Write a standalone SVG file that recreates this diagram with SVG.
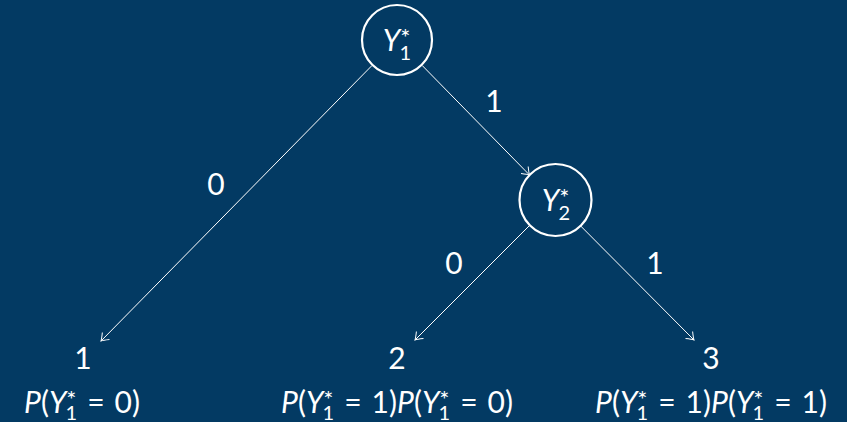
<svg xmlns="http://www.w3.org/2000/svg" width="847" height="422" viewBox="0 0 847 422">
<style>
text{font-family:Lato,"Open Sans","Liberation Sans",sans-serif;fill:#fff;font-size:30px;text-anchor:middle}
.it{font-style:italic}
.s{font-size:20px}
.st{font-size:24px}
.node{fill:none;stroke:#fff;stroke-width:2.2}
.edge{fill:none;stroke:#fff;stroke-width:1;marker-end:url(#arr)}
</style>
<defs>
<marker id="arr" markerUnits="userSpaceOnUse" markerWidth="14" markerHeight="14" viewBox="-8 -7 10 14" refX="0" refY="0" orient="auto">
<path d="M-7,-5 Q-2,-1 0,0 Q-2,1 -7,5" fill="none" stroke="#fff" stroke-width="1"/>
</marker>
</defs>
<rect width="847" height="422" fill="#033a63"/>
<g id="edges">
<line class="edge" x1="371.8" y1="65.7" x2="101" y2="341"/>
<line class="edge" x1="422.3" y1="65.6" x2="529.5" y2="175"/>
<line class="edge" x1="529.5" y1="225.5" x2="415" y2="340"/>
<line class="edge" x1="580.3" y1="225.6" x2="694" y2="340"/>
<text x="216" y="195">0</text>
<text x="494" y="112">1</text>
<text x="454" y="274">0</text>
<text x="655" y="274">1</text>
</g>
<g id="y1">
<circle class="node" cx="397" cy="40" r="35"/>
<text x="397" y="51"><tspan class="it">Y</tspan><tspan class="st" dy="-5">*</tspan><tspan class="s" dx="-11" dy="14">1</tspan></text>
</g>
<g id="y2">
<circle class="node" cx="555.5" cy="200" r="36"/>
<text x="556" y="211"><tspan class="it">Y</tspan><tspan class="st" dy="-5">*</tspan><tspan class="s" dx="-11" dy="14">2</tspan></text>
</g>
<g id="leaf1">
<text x="83" y="369">1</text>
<text x="82" y="413"><tspan class="it">P</tspan>(<tspan class="it">Y</tspan><tspan class="st" dy="-5">*</tspan><tspan class="s" dx="-11" dy="12">1</tspan><tspan dy="-7" dx="10">=</tspan><tspan dx="10">0)</tspan></text>
</g>
<g id="leaf2">
<text x="397" y="369">2</text>
<text x="397" y="413"><tspan class="it">P</tspan>(<tspan class="it">Y</tspan><tspan class="st" dy="-5">*</tspan><tspan class="s" dx="-11" dy="12">1</tspan><tspan dy="-7" dx="10">=</tspan><tspan dx="10">1)</tspan><tspan class="it">P</tspan>(<tspan class="it">Y</tspan><tspan class="st" dy="-5">*</tspan><tspan class="s" dx="-11" dy="12">1</tspan><tspan dy="-7" dx="10">=</tspan><tspan dx="10">0)</tspan></text>
</g>
<g id="leaf3">
<text x="711" y="369">3</text>
<text x="711" y="413"><tspan class="it">P</tspan>(<tspan class="it">Y</tspan><tspan class="st" dy="-5">*</tspan><tspan class="s" dx="-11" dy="12">1</tspan><tspan dy="-7" dx="10">=</tspan><tspan dx="10">1)</tspan><tspan class="it">P</tspan>(<tspan class="it">Y</tspan><tspan class="st" dy="-5">*</tspan><tspan class="s" dx="-11" dy="12">1</tspan><tspan dy="-7" dx="10">=</tspan><tspan dx="10">1)</tspan></text>
</g>
</svg>
